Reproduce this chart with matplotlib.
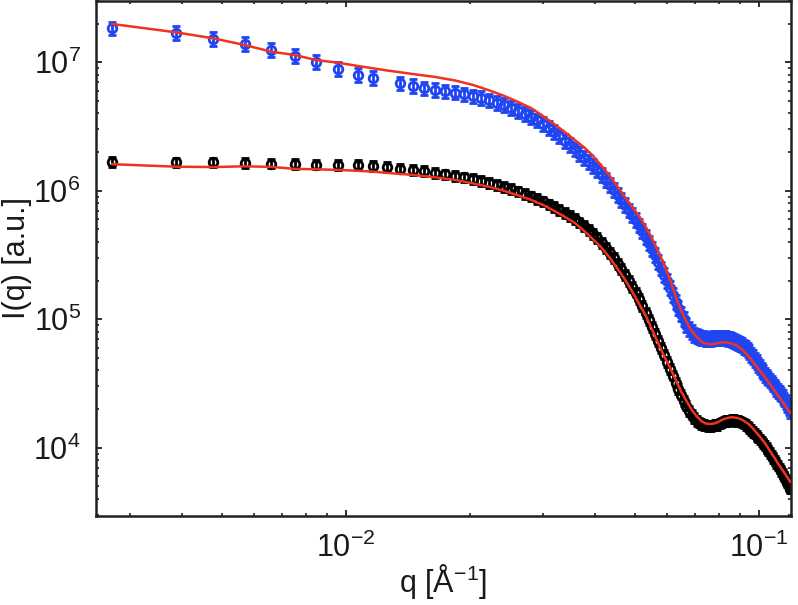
import numpy as np
import matplotlib
matplotlib.use("Agg")
import matplotlib.pyplot as plt

# ---------------- data ----------------
q = [0.00272, 0.00388, 0.00477, 0.00569, 0.00660, 0.00752, 0.00845, 0.00956, 0.01069, 0.01163,
     0.01257, 0.01354, 0.01450, 0.01547, 0.01644, 0.01741, 0.01837, 0.01934, 0.02031, 0.02127,
     0.02224, 0.02321, 0.02417, 0.02514, 0.02611, 0.02708, 0.02804, 0.02901, 0.02998, 0.03094,
     0.03191, 0.03288, 0.03385, 0.03481, 0.03578, 0.03675, 0.03771, 0.03868, 0.03965, 0.04061,
     0.04158, 0.04255, 0.04351, 0.04448, 0.04545, 0.04642, 0.04738, 0.04835, 0.04932, 0.05028,
     0.05125, 0.05222, 0.05318, 0.05415, 0.05512, 0.05609, 0.05705, 0.05802, 0.05899, 0.05995,
     0.06092, 0.06189, 0.06285, 0.06382, 0.06479, 0.06576, 0.06672, 0.06769, 0.06866, 0.06962,
     0.07059, 0.07156, 0.07252, 0.07349, 0.07446, 0.07543, 0.07639, 0.07736, 0.07833, 0.07929,
     0.08026, 0.08123, 0.08219, 0.08316, 0.08413, 0.08510, 0.08606, 0.08703, 0.08800, 0.08896,
     0.08993, 0.09090, 0.09186, 0.09283, 0.09380, 0.09477, 0.09573, 0.09670, 0.09767, 0.09863,
     0.09960, 0.1006, 0.1015, 0.1025, 0.1035, 0.1044, 0.1054, 0.1064, 0.1073, 0.1083,
     0.1093, 0.1102, 0.1112, 0.1122, 0.1131, 0.1141, 0.1151, 0.1160, 0.1170, 0.1180,
     0.1189]

I_black = [1.67e6, 1.66e6, 1.66e6, 1.65e6, 1.63e6, 1.62e6, 1.60e6, 1.59e6, 1.58e6, 1.56e6,
           1.53e6, 1.49e6, 1.45e6, 1.42e6, 1.38e6, 1.34e6, 1.31e6, 1.27e6, 1.24e6, 1.19e6,
           1.15e6, 1.11e6, 1.07e6, 1.03e6, 9.89e5, 9.46e5, 9.05e5, 8.65e5, 8.27e5, 7.84e5,
           7.50e5, 7.10e5, 6.73e5, 6.38e5, 6.05e5, 5.68e5, 5.34e5, 4.97e5, 4.62e5, 4.30e5,
           3.93e5, 3.60e5, 3.29e5, 3.01e5, 2.70e5, 2.47e5, 2.22e5, 1.99e5, 1.79e5, 1.61e5,
           1.44e5, 1.27e5, 1.12e5, 9.91e4, 8.74e4, 7.71e4, 6.81e4, 6.00e4, 5.30e4, 4.67e4,
           4.12e4, 3.64e4, 3.21e4, 2.88e4, 2.59e4, 2.32e4, 2.13e4, 1.94e4, 1.81e4, 1.71e4,
           1.62e4, 1.57e4, 1.53e4, 1.50e4, 1.49e4, 1.47e4, 1.47e4, 1.49e4, 1.50e4, 1.51e4,
           1.54e4, 1.57e4, 1.60e4, 1.61e4, 1.62e4, 1.63e4, 1.64e4, 1.64e4, 1.62e4, 1.61e4,
           1.60e4, 1.57e4, 1.54e4, 1.50e4, 1.46e4, 1.42e4, 1.38e4, 1.33e4, 1.29e4, 1.24e4,
           1.20e4, 1.16e4, 1.12e4, 1.08e4, 1.04e4, 9.93e3, 9.49e3, 9.08e3, 8.68e3, 8.30e3,
           7.94e3, 7.59e3, 7.26e3, 6.88e3, 6.58e3, 6.29e3, 5.96e3, 5.65e3, 5.35e3, 5.07e3,
           4.81e3]

I_blue = [1.838e7, 1.681e7, 1.518e7, 1.388e7, 1.246e7, 1.119e7, 1.011e7, 8.82e6, 7.96e6, 7.51e6,
          np.nan, 6.84e6, 6.54e6, 6.26e6, 6.09e6, 5.93e6, 5.82e6, 5.62e6, 5.42e6, 5.28e6,
          5.05e6, 4.83e6, 4.66e6, 4.41e6, 4.18e6, 3.96e6, 3.76e6, 3.53e6, 3.31e6, 3.08e6,
          2.87e6, 2.65e6, 2.44e6, 2.28e6, 2.10e6, 1.94e6, 1.80e6, 1.68e6, 1.562e6, 1.44e6,
          1.33e6, 1.216e6, 1.111e6, 1.016e6, 9.29e5, 8.50e5, 7.77e5, 7.04e5, 6.49e5, 5.94e5,
          5.38e5, 4.88e5, 4.38e5, 3.93e5, 3.53e5, 3.15e5, 2.80e5, 2.49e5, 2.22e5, 1.975e5,
          1.76e5, 1.55e5, 1.37e5, 1.23e5, 1.10e5, 1.00e5, 9.06e4, 8.44e4, 7.92e4, 7.58e4,
          7.38e4, 7.24e4, 7.18e4, 7.12e4, 7.05e4, 7.05e4, 7.05e4, 7.12e4, 7.18e4, 7.18e4,
          7.18e4, 7.18e4, 7.18e4, 7.12e4, 7.05e4, 6.99e4, 6.93e4, 6.81e4, 6.68e4, 6.57e4,
          6.45e4, 6.28e4, 6.11e4, 5.95e4, 5.79e4, 5.54e4, 5.30e4, 5.07e4, 4.84e4, 4.63e4,
          4.43e4, 4.23e4, 4.05e4, 3.87e4, 3.70e4, 3.57e4, 3.45e4, 3.33e4, 3.21e4, 3.10e4,
          2.99e4, 2.88e4, 2.78e4, 2.68e4, 2.59e4, 2.47e4, 2.37e4, 2.26e4, 2.16e4, 2.05e4,
          1.94e4]

# relative uncertainty shown by the error bars
rel_err_black = 0.09
rel_err_blue = 0.13

# model fits (red lines)
fit_q = [0.00272, 0.00388, 0.00477, 0.00569, 0.00660, 0.00752, 0.00845, 0.00956, 0.01069, 0.01163,
         0.01257, 0.01450, 0.01644, 0.01837, 0.02031, 0.02224, 0.02417, 0.02611, 0.02804, 0.02998,
         0.03191, 0.03385, 0.03578, 0.03771, 0.03965, 0.04158, 0.04351, 0.04545, 0.04738, 0.04932,
         0.05125, 0.05318, 0.05512, 0.05705, 0.05899, 0.06092, 0.06285, 0.06479, 0.06672, 0.06866,
         0.07059, 0.07252, 0.07446, 0.07639, 0.07833, 0.08026, 0.08219, 0.08413, 0.08606, 0.08800,
         0.08993, 0.09186, 0.09380, 0.09573, 0.09767, 0.09960, 0.1015, 0.1035, 0.1054, 0.1073,
         0.1093, 0.1112, 0.1131, 0.1151, 0.1170, 0.1189]

fit_black = [1.61e6, 1.54e6, 1.53e6, 1.55e6, 1.535e6, 1.48e6, 1.47e6, 1.454e6, 1.43e6, 1.41e6,
             1.378e6, 1.33e6, 1.272e6, 1.216e6, 1.141e6, 1.072e6, 9.98e5, 9.21e5, 8.50e5, 7.77e5,
             6.98e5, 6.27e5, 5.63e5, 4.88e5, 4.19e5, 3.60e5, 3.01e5, 2.47e5, 2.03e5, 1.64e5,
             1.32e5, 1.065e5, 8.28e4, 6.45e4, 5.11e4, 4.20e4, 3.38e4, 2.73e4, 2.32e4, 1.98e4,
             1.76e4, 1.61e4, 1.54e4, 1.53e4, 1.55e4, 1.61e4, 1.67e4, 1.71e4, 1.73e4, 1.71e4,
             1.68e4, 1.62e4, 1.55e4, 1.46e4, 1.36e4, 1.26e4, 1.17e4, 1.08e4, 9.84e3, 9.00e3,
             8.23e3, 7.52e3, 6.94e3, 6.40e3, 5.91e3, 5.45e3]

fit_blue = [1.986e7, 1.711e7, 1.537e7, 1.363e7, 1.209e7, 1.140e7, 1.042e7, 9.93e6, 9.36e6, 8.98e6,
            8.64e6, 8.11e6, 7.69e6, 7.22e6, 6.66e6, 6.04e6, 5.47e6, 4.91e6, 4.41e6, 3.82e6,
            3.31e6, 2.87e6, 2.49e6, 2.18e6, 1.87e6, 1.562e6, 1.306e6, 1.072e6, 8.89e5, 7.50e5,
            6.32e5, 5.24e5, 4.23e5, 3.35e5, 2.61e5, 2.03e5, 1.50e5, 1.165e5, 9.56e4, 8.14e4,
            7.31e4, 6.68e4, 6.45e4, 6.39e4, 6.45e4, 6.57e4, 6.62e4, 6.57e4, 6.45e4, 6.28e4,
            6.00e4, 5.64e4, 5.25e4, 4.84e4, 4.47e4, 4.12e4, 3.80e4, 3.51e4, 3.24e4, 2.99e4,
            2.75e4, 2.54e4, 2.37e4, 2.18e4, 2.01e4, 1.875e4]

x_range = (0.002483, 0.1193)
y_range = (2958, 3.0e7)

# ---------------- style ----------------
plt.rcParams["font.family"] = ["Liberation Sans", "DejaVu Sans"]
plt.rcParams["mathtext.fontset"] = "custom"
plt.rcParams["mathtext.rm"] = "Liberation Sans"
plt.rcParams["mathtext.it"] = "Liberation Sans:italic"
plt.rcParams["mathtext.bf"] = "Liberation Sans:bold"
plt.rcParams["mathtext.default"] = "regular"

BLUE = "#1f45f2"
BLACK = "#000000"
RED = "#f0321e"
AXC = "#202020"

fig = plt.figure(figsize=(7.98, 6.05), dpi=100)
ax = fig.add_axes([96 / 798, (605 - 515.7) / 605, (790.7 - 96) / 798, (515.7 - 1) / 605])

qa = np.array(q)
Ib = np.array(I_black)
Iu = np.array(I_blue)

err_b = [Ib * (1 - 1 / (1 + rel_err_black)), Ib * rel_err_black]
err_u = [Iu * (1 - 1 / (1 + rel_err_blue)), Iu * rel_err_blue]

ax.errorbar(qa, Iu, yerr=err_u, fmt="o", ms=6.2, mfc="none", mec=BLUE, mew=2.0,
            ecolor=BLUE, elinewidth=2.0, capsize=2.6, capthick=2.0, zorder=2)
ax.errorbar(qa, Ib, yerr=err_b, fmt="o", ms=6.2, mfc="none", mec=BLACK, mew=2.0,
            ecolor=BLACK, elinewidth=2.0, capsize=2.6, capthick=2.0, zorder=2)

ax.plot(fit_q, fit_blue, color=RED, lw=1.8, zorder=3)
ax.plot(fit_q, fit_black, color=RED, lw=1.8, zorder=3)

ax.set_xscale("log")
ax.set_yscale("log")
ax.set_xlim(*x_range)
ax.set_ylim(*y_range)

for s in ax.spines.values():
    s.set_linewidth(1.8)
    s.set_color(AXC)

ax.tick_params(which="both", direction="in", top=True, right=True, color=AXC,
               labelsize=22, labelcolor="#1a1a1a")
ax.tick_params(which="major", length=4.5, width=1.3)
ax.tick_params(which="minor", length=2.2, width=1.2)
ax.tick_params(axis="y", which="major", pad=11)
ax.tick_params(axis="x", which="major", pad=12)

fig.text(443 / 798, 1 - 592 / 605, "q [Å$^{-1}$]", ha="center", va="baseline",
         fontsize=22, color="#1a1a1a")
fig.text(17 / 798, 1 - 258 / 605, "I(q) [a.u.]", ha="center", va="center",
         rotation=90, fontsize=22, color="#1a1a1a")

fig.savefig("out.png", dpi=100)
